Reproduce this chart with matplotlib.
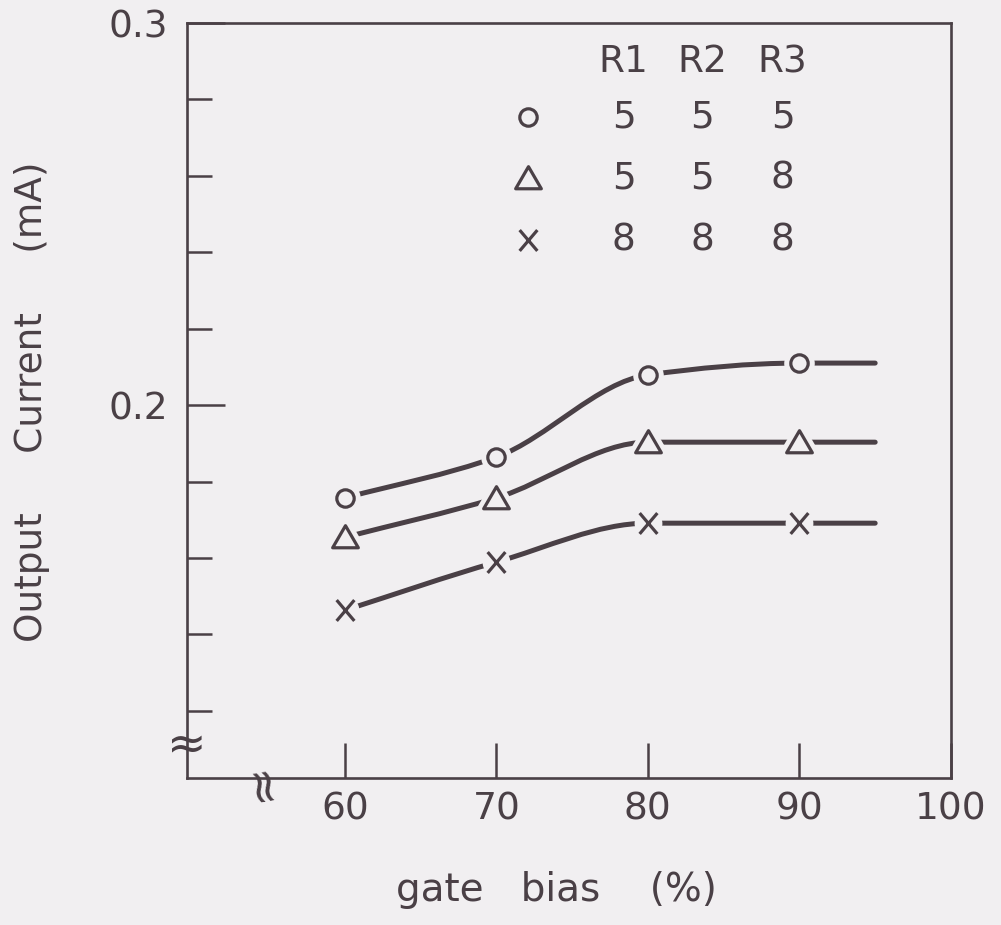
import matplotlib

matplotlib.use("Agg")

import matplotlib.pyplot as plt
import numpy as np
from matplotlib.path import Path
from matplotlib.patches import PathPatch

# --- data ---
gate_bias = [60, 70, 80, 90]
curve_end = 95  # curves run on flat past the last point
current_circle = [0.1757, 0.1864, 0.2079, 0.2110]    # R1=5 R2=5 R3=5
current_triangle = [0.1654, 0.1757, 0.1903, 0.1903]  # R1=5 R2=5 R3=8
current_cross = [0.1463, 0.1589, 0.1691, 0.1691]     # R1=8 R2=8 R3=8

legend_cols = ["R1", "R2", "R3"]
legend_rows = [[5, 5, 5], [5, 5, 8], [8, 8, 8]]

x_ticks = [60, 70, 80, 90, 100]
y_major = [0.2, 0.3]
y_minor = [0.12, 0.14, 0.16, 0.18, 0.22, 0.24, 0.26, 0.28]

INK = "#4a4046"
BG = "#f1eff1"
FS = 27

plt.rcParams["font.family"] = ["DejaVu Sans"]

# hand-lettered style markers
TRI = Path([(-1.0, -0.8), (1.0, -0.8), (0.0, 0.92), (-1.0, -0.8)],
           [Path.MOVETO, Path.LINETO, Path.LINETO, Path.CLOSEPOLY])
CROSS = Path([(-0.85, -1), (0.85, 1), (-0.85, 1), (0.85, -1)],
             [Path.MOVETO, Path.LINETO, Path.MOVETO, Path.LINETO])


def smooth_path(xs, ys):
    """Monotone cubic (Fritsch-Carlson) through the points as bezier segments."""
    xs = np.asarray(xs, float)
    ys = np.asarray(ys, float)
    h = np.diff(xs)
    d = np.diff(ys) / h
    m = np.zeros_like(ys)
    m[0] = d[0]
    m[-1] = d[-1]
    for i in range(1, len(xs) - 1):
        if d[i - 1] * d[i] > 0:
            m[i] = 2 / (1 / d[i - 1] + 1 / d[i])
    verts = [(xs[0], ys[0])]
    codes = [Path.MOVETO]
    for i in range(len(xs) - 1):
        verts += [(xs[i] + h[i] / 3, ys[i] + m[i] * h[i] / 3),
                  (xs[i + 1] - h[i] / 3, ys[i + 1] - m[i + 1] * h[i] / 3),
                  (xs[i + 1], ys[i + 1])]
        codes += [Path.CURVE4] * 3
    return Path(verts, codes)


fig = plt.figure(figsize=(10.01, 9.25), dpi=100, facecolor=BG)
ax = fig.add_axes([0.187, 0.1589, 0.763, 0.8162])
ax.set_facecolor(BG)

# (values, marker, size, halo marker, halo size, halo edge width)
series = [
    (current_circle, "o", 12.5, "o", 22, 0),
    (current_triangle, TRI, 18.5, TRI, 18.5, 9),
    (current_cross, CROSS, 15, "o", 20, 0),
]
for ys, mk, ms, hmk, hms, hmew in series:
    path = smooth_path(gate_bias + [curve_end], ys + [ys[-1]])
    ax.add_patch(PathPatch(path, fill=False, lw=3.6, edgecolor=INK,
                           capstyle="round", zorder=2))
    # background halo so the line stops short of each marker
    ax.plot(gate_bias, ys, ls="none", marker=hmk, ms=hms, mfc=BG, mec=BG,
            mew=hmew, zorder=3)
    ax.plot(gate_bias, ys, ls="none", marker=mk, ms=ms, mfc=BG, mec=INK,
            mew=2.3, zorder=4)

# key table in the upper right
col_x = [78.4, 83.6, 88.9]
row_y = [0.2754, 0.2594, 0.2432]
for cx, name in zip(col_x, legend_cols):
    ax.text(cx, 0.2898, name, ha="center", va="center", fontsize=FS, color=INK)
for (ys, mk, ms, *_), ry, vals in zip(series, row_y, legend_rows):
    ax.plot([72.1], [ry], ls="none", marker=mk, ms=ms, mfc=BG, mec=INK, mew=2.3)
    for cx, v in zip(col_x, vals):
        ax.text(cx, ry, str(v), ha="center", va="center", fontsize=FS, color=INK)

ax.set_xlim(49.6, 100)
ax.set_ylim(0.1024, 0.3)

ax.set_xticks(x_ticks)
ax.set_xticklabels([str(t) for t in x_ticks])
ax.set_yticks(y_major)
ax.set_yticklabels(["0.2", "0.3"])
ax.set_yticks(y_minor, minor=True)
ax.tick_params(axis="x", direction="in", length=25, width=1.8, pad=10,
               labelsize=FS, colors=INK)
ax.tick_params(axis="y", which="major", direction="in", length=27, width=1.8,
               pad=14, labelsize=FS, colors=INK)
ax.tick_params(axis="y", which="minor", direction="in", length=18, width=1.8,
               colors=INK)

for sp in ax.spines.values():
    sp.set_linewidth(1.9)
    sp.set_color(INK)

# axis break marks
ax.text(0.0, 0.041, "\u2248", transform=ax.transAxes, ha="center", va="center",
        fontsize=34, color=INK, zorder=5)
ax.text(0.098, -0.004, "\u2248", transform=ax.transAxes, ha="center", va="center",
        fontsize=34, color=INK, rotation=100, zorder=5)

ax.set_xlabel("gate   bias    (%)", fontsize=28, color=INK, va="center")
ax.xaxis.set_label_coords(0.484, -0.148)
ax.set_ylabel("Output     Current     (mA)", fontsize=FS, color=INK, va="center")
ax.yaxis.set_label_coords(-0.203, 0.499)

fig.savefig("out.png", dpi=100, facecolor=BG)
plt.close(fig)
